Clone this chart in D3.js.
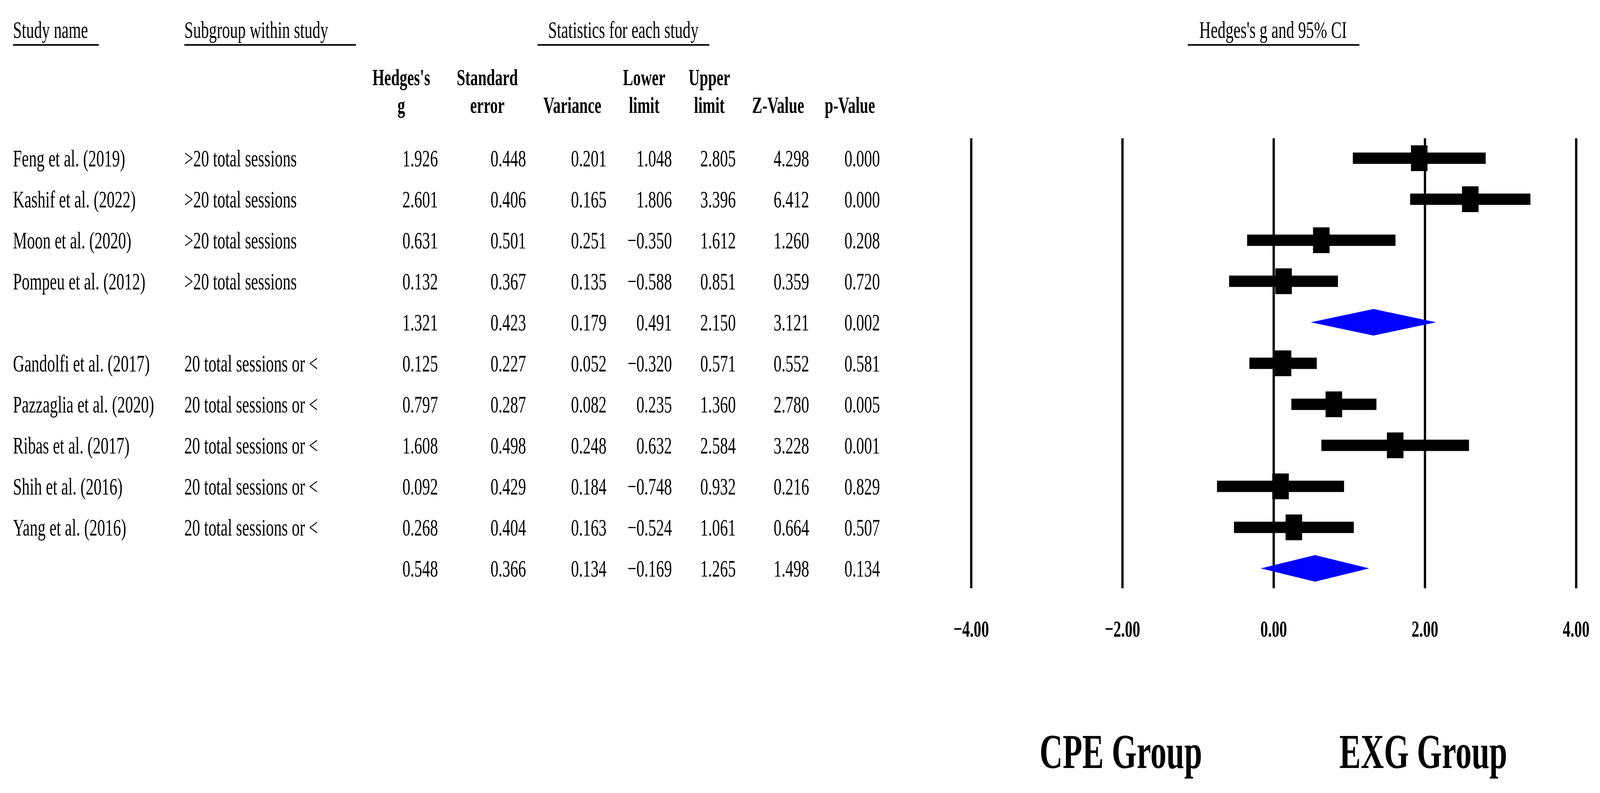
<!DOCTYPE html>
<html>
<head>
<meta charset="utf-8">
<script src="https://cdn.jsdelivr.net/npm/d3@7"></script>
<style>
  html, body { margin: 0; padding: 0; background: #fff; overflow: hidden; }
  svg { display: block; width: 100vw; height: 100vh; }
  text { font-family: "Liberation Serif", "Times New Roman", serif; fill: #000; }
</style>
</head>
<body>
<svg id="chart" viewBox="0 0 6284 2030" preserveAspectRatio="none"></svg>
<script>
const studyNames = ["Feng et al. (2019)", "Kashif et al. (2022)", "Moon et al. (2020)", "Pompeu et al. (2012)", "",
    "Gandolfi et al. (2017)", "Pazzaglia et al. (2020)", "Ribas et al. (2017)", "Shih et al. (2016)", "Yang et al. (2016)", ""];
const subgroups = [">20 total sessions", ">20 total sessions", ">20 total sessions", ">20 total sessions", "",
    "20 total sessions or <", "20 total sessions or <", "20 total sessions or <", "20 total sessions or <", "20 total sessions or <", ""];
const rowKind = ["study", "study", "study", "study", "summary", "study", "study", "study", "study", "study", "summary"];
const hedgesG    = [1.926, 2.601, 0.631, 0.132, 1.321, 0.125, 0.797, 1.608, 0.092, 0.268, 0.548];
const stdError   = [0.448, 0.406, 0.501, 0.367, 0.423, 0.227, 0.287, 0.498, 0.429, 0.404, 0.366];
const variance   = [0.201, 0.165, 0.251, 0.135, 0.179, 0.052, 0.082, 0.248, 0.184, 0.163, 0.134];
const lowerLimit = [1.048, 1.806, -0.350, -0.588, 0.491, -0.320, 0.235, 0.632, -0.748, -0.524, -0.169];
const upperLimit = [2.805, 3.396, 1.612, 0.851, 2.150, 0.571, 1.360, 2.584, 0.932, 1.061, 1.265];
const zValue     = [4.298, 6.412, 1.260, 0.359, 3.121, 0.552, 2.780, 3.228, 0.216, 0.664, 1.498];
const pValue     = [0.000, 0.000, 0.208, 0.720, 0.002, 0.581, 0.005, 0.001, 0.829, 0.507, 0.134];
const xTicks = [-4, -2, 0, 2, 4];
const groupLabels = ["CPE Group", "EXG Group"];

const svg = d3.select("#chart");
svg.append("rect").attr("width", 6284).attr("height", 2030).attr("fill", "#fff");

const rows = d3.range(studyNames.length);
const y = d3.scaleLinear().domain([0, rows.length - 1]).range([405, 1455]);
const x = d3.scaleLinear().domain([-4, 4]).range([3814, 6190]);
const fmt = d3.format(".3f");

// top level headers with underline
const topHeaders = [
    {label: "Study name", x: 51, anchor: "start", line: [51, 388]},
    {label: "Subgroup within study", x: 724, anchor: "start", line: [724, 1398]},
    {label: "Statistics for each study", x: 2448, anchor: "middle", line: [2111, 2786]},
    {label: "Hedges's g and 95% CI", x: 5000, anchor: "middle", line: [4665, 5339]}
];
const th = svg.append("g");
th.selectAll("text").data(topHeaders).join("text")
    .attr("x", d => d.x).attr("y", 97)
    .attr("text-anchor", d => d.anchor)
    .attr("font-size", 62)
    .text(d => d.label);
th.selectAll("line").data(topHeaders).join("line")
    .attr("x1", d => d.line[0]).attr("x2", d => d.line[1])
    .attr("y1", 115).attr("y2", 115)
    .attr("stroke", "#000").attr("stroke-width", 4);

// statistic columns
const columns = [
    {head: ["Hedges's", "g"], values: hedgesG, right: 1720, center: 1576},
    {head: ["Standard", "error"], values: stdError, right: 2066, center: 1914},
    {head: ["", "Variance"], values: variance, right: 2382, center: 2248},
    {head: ["Lower", "limit"], values: lowerLimit, right: 2639, center: 2530},
    {head: ["Upper", "limit"], values: upperLimit, right: 2890, center: 2786},
    {head: ["", "Z-Value"], values: zValue, right: 3178, center: 3056},
    {head: ["", "p-Value"], values: pValue, right: 3456, center: 3338}
];

const cols = svg.append("g").selectAll("g").data(columns).join("g");
cols.each(function(c) {
    const g = d3.select(this);
    g.selectAll("text.head").data(c.head).join("text")
        .attr("class", "head")
        .attr("x", c.center)
        .attr("y", (d, i) => i === 0 ? 218 : 289)
        .attr("text-anchor", "middle")
        .attr("font-size", 60)
        .attr("font-weight", "bold")
        .text(d => d);
    g.selectAll("text.val").data(c.values).join("text")
        .attr("class", "val")
        .attr("x", c.right)
        .attr("y", (d, i) => y(i) + 21)
        .attr("text-anchor", "end")
        .attr("font-size", 62)
        .text(d => fmt(d));
});

// study names & subgroups
svg.append("g").selectAll("text").data(rows).join("text")
    .attr("x", 51).attr("y", i => y(i) + 21)
    .attr("font-size", 62)
    .text(i => studyNames[i]);
svg.append("g").selectAll("text").data(rows).join("text")
    .attr("x", 724).attr("y", i => y(i) + 21)
    .attr("font-size", 62)
    .text(i => subgroups[i]);

// forest axis: full height reference lines
const axisTop = 354, axisBottom = 1506;
svg.append("g")
    .attr("transform", `translate(0,${axisBottom})`)
    .call(d3.axisBottom(x).tickValues(xTicks).tickFormat(d3.format(".2f"))
        .tickSize(-(axisBottom - axisTop)).tickPadding(81))
    .call(g => g.select(".domain").remove())
    .call(g => g.selectAll(".tick line").attr("stroke", "#000").attr("stroke-width", 9))
    .call(g => g.selectAll(".tick text")
        .attr("font-family", "'Liberation Serif', serif")
        .attr("font-size", 60).attr("font-weight", "bold").attr("fill", "#000"));

// study markers
const studyRows = rows.filter(i => rowKind[i] === "study");
const marks = svg.append("g");
marks.selectAll("rect.ci").data(studyRows).join("rect")
    .attr("class", "ci")
    .attr("x", i => x(lowerLimit[i]))
    .attr("width", i => x(upperLimit[i]) - x(lowerLimit[i]))
    .attr("y", i => y(i) - 14.5).attr("height", 29)
    .attr("fill", "#000");
marks.selectAll("rect.pt").data(studyRows).join("rect")
    .attr("class", "pt")
    .attr("x", i => x(hedgesG[i]) - 32.5).attr("width", 65)
    .attr("y", i => y(i) - 33).attr("height", 66)
    .attr("fill", "#000");

// summary diamonds
const sumRows = rows.filter(i => rowKind[i] === "summary");
marks.selectAll("path.dia").data(sumRows).join("path")
    .attr("class", "dia")
    .attr("d", i => `M${x(lowerLimit[i])},${y(i)}L${x(hedgesG[i])},${y(i) - 34}L${x(upperLimit[i])},${y(i)}L${x(hedgesG[i])},${y(i) + 34}Z`)
    .attr("fill", "#0000ff");

// group labels under the axis
svg.append("g").selectAll("text").data(groupLabels).join("text")
    .attr("x", (d, i) => i === 0 ? x(-2.02) : x(1.98))
    .attr("y", 1966)
    .attr("text-anchor", "middle")
    .attr("font-size", 126)
    .attr("font-weight", "bold")
    .text(d => d);
</script>
</body>
</html>
